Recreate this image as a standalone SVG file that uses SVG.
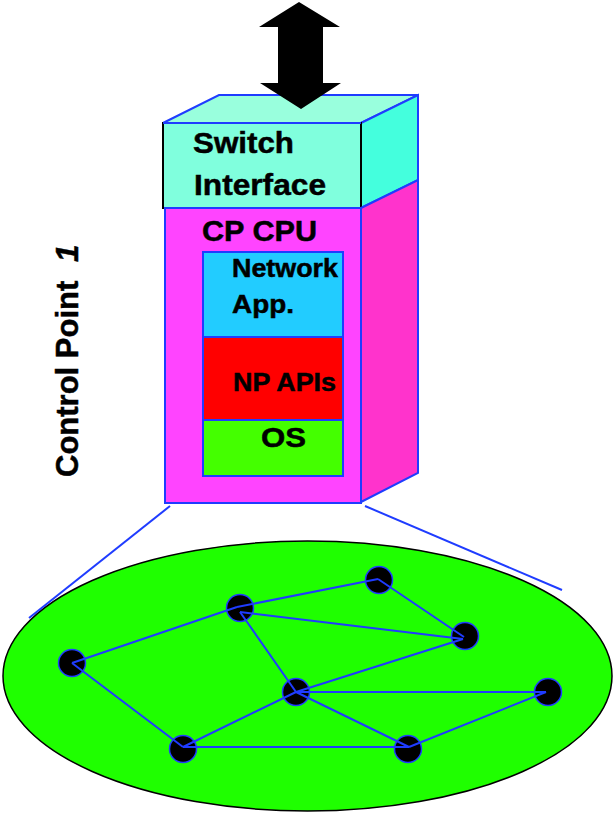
<svg xmlns="http://www.w3.org/2000/svg" width="613" height="813" viewBox="0 0 613 813">
  <style>
    .lbl { font-family: "Liberation Sans", Arial, sans-serif; font-weight: bold; fill: #000; stroke: #000; stroke-width: 0.5; }
    .edge { stroke: #1f3cff; stroke-width: 2; fill: none; }
    .node { fill: #000; stroke: #1f3cff; stroke-width: 1.5; }
    .blue { stroke: #1f3cff; stroke-width: 2; }
  </style>

  <rect x="0" y="0" width="613" height="813" fill="#fff"/>

  <!-- network cloud -->
  <g id="network">
    <ellipse cx="307.5" cy="676" rx="304.5" ry="135" fill="#1fff00" stroke="#000" stroke-width="1.5"/>
  </g>

  <!-- control point box (3D) -->
  <g id="switch-interface">
    <polygon points="163,123 219,95 418,95 361,123" fill="#99ffdd" class="blue"/>
    <polygon points="361,123 418,95 418,180 361,208" fill="#44ffdd" class="blue"/>
    <rect x="163" y="123" width="198" height="85" fill="#80ffdd" stroke="#000" stroke-width="2"/>
    <line x1="163" y1="123" x2="361" y2="123" class="blue"/>
    <text class="lbl" x="193" y="153" font-size="30" textLength="101" lengthAdjust="spacingAndGlyphs">Switch</text>
    <text class="lbl" x="194" y="195" font-size="30" textLength="132" lengthAdjust="spacingAndGlyphs">Interface</text>
  </g>

  <g id="cp-cpu">
    <polygon points="361,208 418,180 418,473 361,502" fill="#ff33cc" class="blue"/>
    <rect x="165" y="208" width="196" height="295" fill="#ff44ff" class="blue"/>
    <text class="lbl" x="202" y="241" font-size="29" textLength="115" lengthAdjust="spacingAndGlyphs">CP CPU</text>
  </g>

  <g id="network-app">
    <rect x="203" y="252" width="140" height="85" fill="#22ccff" class="blue"/>
    <text class="lbl" x="232" y="277" font-size="26" textLength="106" lengthAdjust="spacingAndGlyphs">Network</text>
    <text class="lbl" x="232" y="313" font-size="26" textLength="62" lengthAdjust="spacingAndGlyphs">App.</text>
  </g>

  <g id="np-apis">
    <rect x="203" y="337" width="140" height="83" fill="#ff0000" class="blue"/>
    <text class="lbl" x="233" y="391" font-size="26" textLength="103" lengthAdjust="spacingAndGlyphs">NP APIs</text>
  </g>

  <g id="os">
    <rect x="203" y="420" width="140" height="56" fill="#44ff00" class="blue"/>
    <text class="lbl" x="261" y="447" font-size="28" textLength="45" lengthAdjust="spacingAndGlyphs">OS</text>
  </g>

  <!-- bidirectional arrow to the switch -->
  <g id="switch-arrow">
    <polygon points="299,2 340,27 323,27 323,83 341,83 301,109 260,83 278,83 278,27 259,27" fill="#000"/>
  </g>

  <g id="control-point-label">
    <text class="lbl" font-size="31" transform="translate(78,477) rotate(-90)">Control Point <tspan dx="10" font-style="italic">1</tspan></text>
  </g>

  <!-- routers -->
  <g id="n1"><circle class="node" cx="72" cy="663" r="13.5"/></g>
  <g id="n2"><circle class="node" cx="240" cy="608" r="13.5"/></g>
  <g id="n3"><circle class="node" cx="379" cy="580" r="13.5"/></g>
  <g id="n4"><circle class="node" cx="465" cy="636" r="13.5"/></g>
  <g id="n5"><circle class="node" cx="296" cy="692" r="13.5"/></g>
  <g id="n6"><circle class="node" cx="548" cy="692" r="13.5"/></g>
  <g id="n7"><circle class="node" cx="183" cy="749" r="13.5"/></g>
  <g id="n8"><circle class="node" cx="408" cy="749" r="13.5"/></g>

  <g id="connectors">
    <!-- links between routers -->
    <line class="edge" x1="72" y1="663" x2="237" y2="607"/>
    <line class="edge" x1="237" y1="607" x2="378" y2="579"/>
    <line class="edge" x1="378" y1="579" x2="464" y2="637"/>
    <line class="edge" x1="240" y1="612" x2="463" y2="639"/>
    <line class="edge" x1="240" y1="612" x2="296" y2="692"/>
    <line class="edge" x1="296" y1="692" x2="463" y2="639"/>
    <line class="edge" x1="296" y1="692" x2="546" y2="692"/>
    <line class="edge" x1="72" y1="663" x2="183" y2="747"/>
    <line class="edge" x1="183" y1="747" x2="296" y2="692"/>
    <line class="edge" x1="183" y1="747" x2="409" y2="747"/>
    <line class="edge" x1="296" y1="692" x2="409" y2="747"/>
    <line class="edge" x1="409" y1="747" x2="546" y2="692"/>
    <!-- zoom lines from the control point down to the network -->
    <line class="edge" x1="170" y1="506" x2="29" y2="618"/>
    <line class="edge" x1="365" y1="506" x2="562" y2="590"/>
  </g>
</svg>
